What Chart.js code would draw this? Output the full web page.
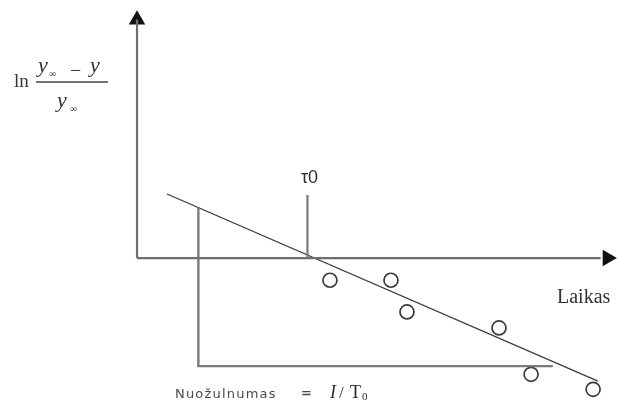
<!DOCTYPE html>
<html>
<head>
<meta charset="utf-8">
<script src="https://cdn.jsdelivr.net/npm/chart.js@4"></script>
<style>
    html, body { margin: 0; padding: 0; background: #fff; }
    #c { display: block; }
</style>
</head>
<body>
<canvas id="c" width="619" height="405"></canvas>
<script>
// ======================
// Data (laikas / ln((y∞ - y)/y∞))
// ======================
const TIME_RANGE = [-4.02, 14.14];
const VALUE_RANGE = [-4.31, 7.57];

const TAU0 = 5;

// matavimai (apskritimai)
const measuredTime = [5.66, 7.45, 7.92, 10.62, 11.56, 13.38];
const measuredValue = [-0.65, -0.65, -1.58, -2.05, -3.41, -3.85];

// tiesė per taškus
const fitTime = [0.88, 13.52];
const fitValue = [1.88, -3.61];

// nuožulnumo kampas
const slopeTime = [1.80, 1.80, 12.20];
const slopeValue = [1.48, -3.17, -3.17];

// τ0 žymė
const tauTime = [TAU0, TAU0];
const tauValue = [0, 1.85];

// ašys ir rodyklės
const xAxisTime = [0, 13.6];
const xAxisValue = [0, 0];
const yAxisTime = [0, 0];
const yAxisValue = [0, 7.0];
const arrowTime = [13.80, 0];
const arrowValue = [0, 6.99];
const arrowRotation = [90, 0];

function toPoints(xs, ys) {
    return xs.map((x, i) => ({ x: x, y: ys[i] }));
}

function lineSet(xs, ys, color, width) {
    return {
        data: toPoints(xs, ys),
        showLine: true,
        borderColor: color,
        borderWidth: width,
        pointRadius: 0,
        fill: false,
        clip: false
    };
}

// ======================
// Text labels
// ======================
function drawRun(ctx, parts) {
    parts.forEach(p => {
        ctx.font = p.font;
        ctx.fillText(p.text, p.x, p.y);
    });
}

const labelsPlugin = {
    id: "labels",
    afterDatasetsDraw(chart) {
        const { ctx, scales: { x, y } } = chart;
        ctx.save();
        ctx.textAlign = "left";
        ctx.textBaseline = "alphabetic";

        // τ0 virš žymės
        ctx.fillStyle = "#2a2a3a";
        ctx.font = '18px "Liberation Sans"';
        ctx.textAlign = "center";
        ctx.fillText("τ0", x.getPixelForValue(TAU0) + 2, y.getPixelForValue(tauValue[1]) - 12);
        ctx.textAlign = "left";

        // x ašies pavadinimas
        ctx.fillStyle = "#333";
        ctx.font = '20px "Liberation Serif"';
        ctx.fillText("Laikas", 557, 303);

        // y ašies pavadinimas: ln((y∞ - y) / y∞)
        ctx.fillStyle = "#333";
        const serif = '"Liberation Serif"';
        drawRun(ctx, [
            { text: "ln", font: "19px " + serif, x: 14, y: 87 },
            { text: "y", font: "italic 22px " + serif, x: 38, y: 72 },
            { text: "∞", font: "10px " + serif, x: 49, y: 77 },
            { text: "−", font: "20px " + serif, x: 70, y: 77 },
            { text: "y", font: "italic 22px " + serif, x: 90, y: 72 },
            { text: "y", font: "italic 22px " + serif, x: 57, y: 107 },
            { text: "∞", font: "10px " + serif, x: 70, y: 112 }
        ]);
        ctx.strokeStyle = "#444";
        ctx.lineWidth = 1.5;
        ctx.beginPath();
        ctx.moveTo(36, 82);
        ctx.lineTo(108, 82);
        ctx.stroke();

        // nuožulnumo užrašas
        ctx.fillStyle = "#4a4a4a";
        ctx.font = '13px "DejaVu Sans"';
        ctx.letterSpacing = "1.2px";
        ctx.fillText("Nuožulnumas", 175, 398);
        ctx.font = 'bold 13px "DejaVu Sans"';
        ctx.fillText("=", 301, 397);
        ctx.letterSpacing = "0px";
        ctx.fillStyle = "#3a2a20";
        drawRun(ctx, [
            { text: "I", font: "italic 18px " + serif, x: 330, y: 398 },
            { text: "/", font: "17px " + serif, x: 339, y: 398 }
        ]);
        ctx.fillStyle = "#20283a";
        drawRun(ctx, [
            { text: "T", font: "18px " + serif, x: 350, y: 398 },
            { text: "0", font: "11px " + serif, x: 362, y: 400 }
        ]);

        ctx.restore();
    }
};

// ======================
// Chart
// ======================
const ctx = document.getElementById("c").getContext("2d");

new Chart(ctx, {
    type: "scatter",
    data: {
        datasets: [
            lineSet(xAxisTime, xAxisValue, "#6e6e6e", 2.2),
            lineSet(yAxisTime, yAxisValue, "#6e6e6e", 2.2),
            lineSet(tauTime, tauValue, "#7a7a7a", 2.2),
            lineSet(slopeTime, slopeValue, "#7a7a7a", 2.4),
            lineSet(fitTime, fitValue, "#3c3c3c", 1.3),
            {
                // rodyklių galai
                data: toPoints(arrowTime, arrowValue),
                pointStyle: "triangle",
                pointRadius: 9.5,
                rotation: arrowRotation,
                backgroundColor: "#111",
                borderColor: "#111",
                borderWidth: 0,
                clip: false
            },
            {
                data: toPoints(measuredTime, measuredValue),
                pointStyle: "circle",
                pointRadius: 7,
                backgroundColor: "#fff",
                borderColor: "#3a3a3a",
                borderWidth: 1.7,
                clip: false
            }
        ]
    },
    options: {
        responsive: false,
        animation: false,
        devicePixelRatio: 1,
        layout: { padding: 0, autoPadding: false },
        plugins: {
            legend: { display: false },
            tooltip: { enabled: false }
        },
        scales: {
            x: { type: "linear", min: TIME_RANGE[0], max: TIME_RANGE[1], display: false },
            y: { type: "linear", min: VALUE_RANGE[0], max: VALUE_RANGE[1], display: false }
        }
    },
    plugins: [labelsPlugin]
});
</script>
</body>
</html>
